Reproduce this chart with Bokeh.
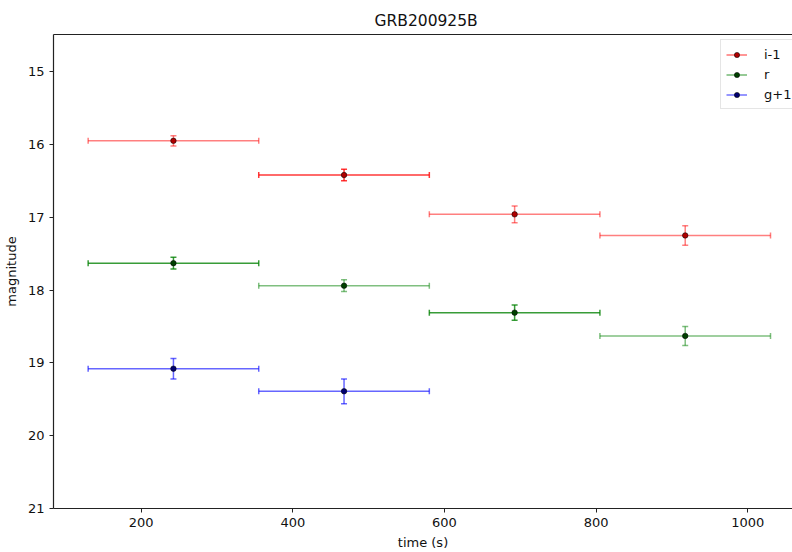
import numpy as np
from bokeh.plotting import figure
from bokeh.models import (Range1d, FixedTicker, Legend, LegendItem,
                          ColumnDataSource, LinearAxis)
from bokeh.embed import file_html
from bokeh.resources import INLINE

# ---------------- data ----------------
title_text = "GRB200925B"
x_label = "time (s)"
y_label = "magnitude"

x_ticks = [200, 400, 600, 800, 1000]
y_ticks = [15, 16, 17, 18, 19, 20, 21]

time_mid = [242.5, 467.5, 692.5, 917.5]
time_half = [112.5, 112.5, 112.5, 112.5]

band_labels = ["i-1", "r", "g+1"]

i_mag = [15.95, 16.42, 16.96, 17.25]
i_err = [0.07, 0.08, 0.115, 0.135]

r_mag = [17.63, 17.94, 18.31, 18.63]
r_err = [0.08, 0.08, 0.105, 0.13]

g_mag = [19.08, 19.39]
g_err = [0.14, 0.17]

# ---------------- styles ----------------
FONT = "DejaVu Sans"
i_alpha = [0.5, 0.78, 0.5, 0.5]
r_alpha = [0.78, 0.5, 0.78, 0.5]
g_alpha = [0.6, 0.6]

bands = [
    (band_labels[0], i_mag, i_err, i_alpha, "#ff0000", "#b00000"),
    (band_labels[1], r_mag, r_err, r_alpha, "#008000", "#004000"),
    (band_labels[2], g_mag, g_err, g_alpha, "#0000ff", "#000070"),
]

p = figure(width=792, height=552, output_backend="svg", toolbar_location=None,
           x_range=Range1d(84.3, 1059.0), y_range=Range1d(21.0, 14.49),
           min_border_left=53, min_border_right=0, min_border_top=34,
           min_border_bottom=44, title=title_text)

p.outline_line_color = None
p.background_fill_color = "white"
p.border_fill_color = "white"
p.xgrid.visible = False
p.ygrid.visible = False

p.title.align = "left"
p.title.offset = 321
p.title.text_font = FONT
p.title.text_font_size = "15.5px"
p.title.text_font_style = "normal"
p.title.text_color = "#111111"
p.title.standoff = 9

for ax in (p.xaxis[0], p.yaxis[0]):
    ax.axis_line_color = "#222222"
    ax.axis_line_width = 1.2
    ax.major_tick_line_color = "#222222"
    ax.major_tick_out = 4
    ax.major_tick_in = 0
    ax.minor_tick_line_color = None
    ax.major_label_text_font = FONT
    ax.major_label_text_font_size = "13px"
    ax.major_label_text_color = "#111111"
    ax.axis_label_text_font = FONT
    ax.axis_label_text_font_size = "13px"
    ax.axis_label_text_font_style = "normal"
    ax.axis_label_text_color = "#111111"
    ax.major_label_standoff = 5

p.xaxis.ticker = FixedTicker(ticks=x_ticks)
p.yaxis.ticker = FixedTicker(ticks=y_ticks)
p.xaxis.axis_label = x_label
p.yaxis.axis_label = y_label
p.xaxis.axis_label_standoff = 5
p.yaxis.axis_label_standoff = 6

# top spine
top = LinearAxis(ticker=FixedTicker(ticks=[]), axis_line_color="#222222",
                 axis_line_width=1.2, major_tick_line_color=None,
                 minor_tick_line_color=None, major_label_text_font_size="0px",
                 major_tick_out=0, major_label_standoff=0)
p.add_layout(top, "above")

legend_items = []
for label, mags, errs, alphas, color, dot_color in bands:
    n = len(mags)
    t = np.array(time_mid[:n])
    dt = np.array(time_half[:n])
    m = np.array(mags)
    e = np.array(errs)
    src = ColumnDataSource(dict(t=t, lo=t - dt, hi=t + dt, m=m,
                                mlo=m - e, mhi=m + e, a=alphas))
    kw = dict(source=src, line_color=color, line_alpha="a", line_width=1.5)
    p.segment(x0="lo", y0="m", x1="hi", y1="m", **kw)
    p.segment(x0="t", y0="mlo", x1="t", y1="mhi", **kw)
    for xc in ("lo", "hi"):
        p.scatter(x=xc, y="m", marker="dash", angle=np.pi / 2, size=6, **kw)
    for yc in ("mlo", "mhi"):
        p.scatter(x="t", y=yc, marker="dash", size=6, **kw)
    p.scatter(x="t", y="m", marker="circle", size=5.5, source=src,
              fill_color=dot_color, line_color="black", line_alpha=0.55,
              line_width=1)

    # legend proxies (not drawn in the plot: NaN positions)
    nan = np.array([np.nan])
    lg_line = p.segment(x0=nan, y0=nan, x1=nan, y1=nan, line_color=color,
                        line_alpha=0.55, line_width=1.5)
    lg_dot = p.scatter(x=nan, y=nan, marker="circle", fill_color=dot_color,
                       line_color="black", line_alpha=0.55)
    legend_items.append(LegendItem(label=label, renderers=[lg_line, lg_dot]))

legend = Legend(items=legend_items, location=(667, 399),
                label_text_font=FONT, label_text_font_size="13px",
                label_text_color="#111111",
                glyph_width=21, glyph_height=13, label_height=18,
                label_standoff=17, spacing=2, padding=5, margin=0,
                border_line_color="#cccccc", border_line_width=1,
                background_fill_color="white", background_fill_alpha=0.8)
p.add_layout(legend)

html = file_html(p, INLINE)
open("out.html", "w").write(html)
